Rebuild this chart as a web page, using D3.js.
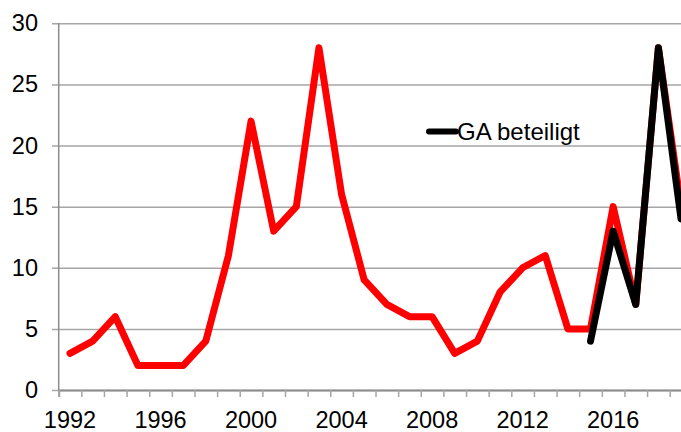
<!DOCTYPE html>
<html>
<head>
<meta charset="utf-8">
<script src="https://cdn.jsdelivr.net/npm/d3@7"></script>
<style>
  body { margin: 0; overflow: hidden; background: #fff; }
  text { font-family: "Liberation Sans", Arial, sans-serif; }
</style>
</head>
<body>
<div id="chart"></div>
<script>
const years = [1992, 1993, 1994, 1995, 1996, 1997, 1998, 1999, 2000, 2001, 2002, 2003, 2004, 2005,
  2006, 2007, 2008, 2009, 2010, 2011, 2012, 2013, 2014, 2015, 2016, 2017, 2018, 2019];
const totalCases = [3, 4, 6, 2, 2, 2, 4, 11, 22, 13, 15, 28, 16, 9,
  7, 6, 6, 3, 4, 8, 10, 11, 5, 5, 15, 7, 28, 15];
const gaYears = [2015, 2016, 2017, 2018, 2019];
const gaCases = [4, 13, 7, 28, 14];
const yTicks = [0, 5, 10, 15, 20, 25, 30];
const xLabels = [1992, 1996, 2000, 2004, 2008, 2012, 2016];
const legendLabel = "GA beteiligt";

const W = 681, H = 432;
const svg = d3.select("#chart").append("svg").attr("width", W).attr("height", H);

const plotLeft = 58.7, step = 22.63, plotTop = 23.3, plotBottom = 390;
const x = d3.scaleBand().domain(years).range([plotLeft, plotLeft + years.length * step]).padding(0);
const xEdge = d3.scaleLinear().domain([0, years.length]).range(x.range());
const y = d3.scaleLinear().domain([0, 30]).range([plotBottom, plotTop]);

// gridlines + y labels
const gy = svg.append("g").attr("transform", "translate(52,0)")
  .call(d3.axisLeft(y).tickValues(yTicks).tickSize(-(W - 52 + 20)).tickPadding(14));
gy.select(".domain").remove();
gy.selectAll(".tick line").attr("stroke", "#a6a6a6").attr("stroke-width", 1.5);
gy.selectAll(".tick text").attr("fill", "#000").style("font-size", "23.5px");

// y axis line
svg.append("line").attr("x1", plotLeft).attr("x2", plotLeft).attr("y1", plotTop).attr("y2", plotBottom)
  .attr("stroke", "#8c8c8c").attr("stroke-width", 1.5);

// x axis tick marks
const gxe = svg.append("g").attr("transform", `translate(0,${plotBottom})`)
  .call(d3.axisBottom(xEdge).tickValues(d3.range(0, years.length + 1)).tickSize(7).tickFormat(""));
gxe.select(".domain").attr("stroke", "#8c8c8c").attr("stroke-width", 2);
gxe.selectAll(".tick line").attr("stroke", "#a6a6a6").attr("stroke-width", 1.5);

// x labels
const gx = svg.append("g").attr("transform", `translate(0,${plotBottom})`)
  .call(d3.axisBottom(x).tickValues(xLabels).tickSize(0).tickPadding(21));
gx.select(".domain").remove();
gx.selectAll(".tick text").attr("fill", "#000").style("font-size", "23.5px");

const line = d3.line().x(d => x(d[0]) + x.bandwidth() / 2).y(d => y(d[1]));

svg.append("path")
  .datum(years.map((yr, i) => [yr, totalCases[i]]))
  .attr("d", line)
  .attr("fill", "none").attr("stroke", "#ff0000").attr("stroke-width", 7)
  .attr("stroke-linejoin", "round").attr("stroke-linecap", "round");

svg.append("path")
  .datum(gaYears.map((yr, i) => [yr, gaCases[i]]))
  .attr("d", line)
  .attr("fill", "none").attr("stroke", "#000").attr("stroke-width", 7)
  .attr("stroke-linejoin", "round").attr("stroke-linecap", "round");

// legend
const lg = svg.append("g").attr("transform", "translate(427,131.5)");
lg.append("line").attr("x1", 2).attr("x2", 29).attr("y1", 0).attr("y2", 0)
  .attr("stroke", "#000").attr("stroke-width", 6).attr("stroke-linecap", "round");
lg.append("text").attr("x", 30).attr("y", 8.5).style("font-size", "24px").text(legendLabel);
</script>
</body>
</html>
